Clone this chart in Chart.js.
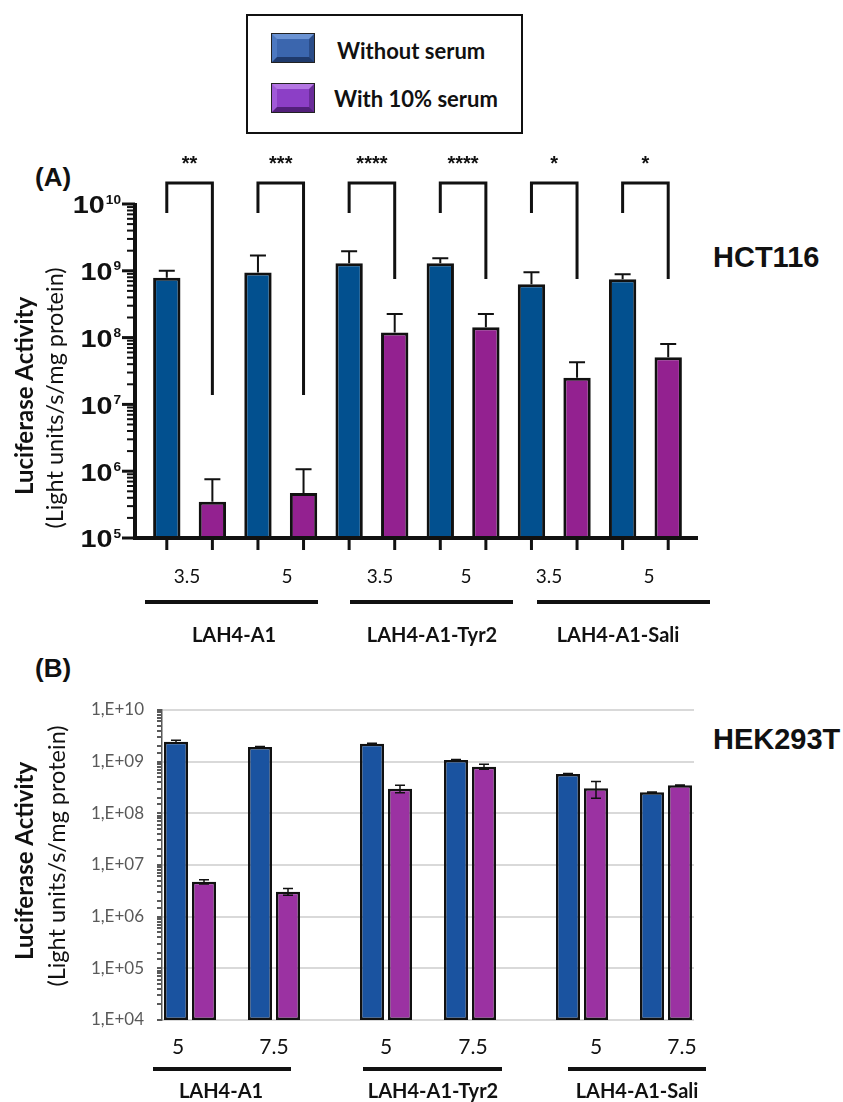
<!DOCTYPE html>
<html>
<head>
<meta charset="utf-8">
<script src="https://cdn.jsdelivr.net/npm/chart.js@4.4.1/dist/chart.umd.min.js"></script>
<style>
  body { margin: 0; background: #fff; }
  #page { position: relative; width: 843px; height: 1102px; overflow: hidden; color: #111; font-family: Lato, sans-serif; }
  .abs { position: absolute; white-space: nowrap; line-height: 1; }
  .tag { font: bold 26px "Liberation Sans", Arial, sans-serif; }
  .cell { font: bold 29px "Liberation Sans", Arial, sans-serif; }
  .legtext { font: bold 22px Lato, sans-serif; }
  .swatch { width: 32px; height: 18px; border: 5px solid; box-shadow: 0 0 0 1px #222; }
  .sw-blue { background: #3b66ae; border-color: #6b93d3 #2a4c88 #1f3a6c #4c78c0; }
  .sw-purple { background: #8c3fc6; border-color: #b476e3 #6a2c99 #52207a #a05ad8; }
</style>
</head>
<body>
<div id="page">
  <div class="abs" style="left:246px;top:14px;width:277px;height:120px;box-sizing:border-box;border:2.5px solid #111;"></div>
  <div class="abs swatch sw-blue" style="left:272px;top:34px;"></div>
  <div class="abs swatch sw-purple" style="left:272px;top:84px;"></div>
  <div class="abs legtext" style="left:337px;top:37px;">Without serum</div>
  <div class="abs legtext" style="left:334px;top:85px;">With 10% serum</div>

  <div class="abs tag" style="left:35px;top:162px;">(A)</div>
  <div class="abs cell" style="left:713px;top:241px;">HCT116</div>
  <div class="abs tag" style="left:35px;top:653px;">(B)</div>
  <div class="abs cell" style="left:713px;top:723px;">HEK293T</div>

  <div class="abs" style="left:0;top:140px;width:843px;height:520px;"><canvas id="chartA"></canvas></div>
  <div class="abs" style="left:0;top:660px;width:843px;height:442px;"><canvas id="chartB"></canvas></div>
</div>

<script>
// ---- data: panel A (HCT116), doses 3.5 / 5 per compound ----
const compounds = ['LAH4-A1', 'LAH4-A1-Tyr2', 'LAH4-A1-Sali'];
const dosesA = ['3.5', '5', '3.5', '5', '3.5', '5'];
const noSerumA = [7.9e8, 9.4e8, 1.3e9, 1.3e9, 6.3e8, 7.45e8];
const noSerumErrA = [2.1e8, 7.6e8, 6.6e8, 2.4e8, 3.2e8, 1.4e8];
const serumA = [3.5e5, 4.7e5, 1.19e8, 1.43e8, 2.5e7, 5.06e7];
const serumErrA = [4.1e5, 6.0e5, 1.06e8, 8.2e7, 1.77e7, 2.94e7];
const starsA = ['**', '***', '****', '****', '*', '*'];

// ---- data: panel B (HEK293T), doses 5 / 7.5 per compound ----
const dosesB = ['5', '7.5', '5', '7.5', '5', '7.5'];
const noSerumB = [2.44e9, 1.92e9, 2.23e9, 1.08e9, 5.77e8, 2.55e8];
const noSerumErrB = [1.5e8, 4e7, 3e7, 2e7, 1e7, 4e6];
const serumB = [4.75e6, 3.05e6, 3.0e8, 8.0e8, 3.05e8, 3.48e8];
const serumErrB = [4.5e5, 4.5e5, 5e7, 9e7, 1.1e8, 6e6];
const yTicksB = [1e4, 1e5, 1e6, 1e7, 1e8, 1e9, 1e10];

// ---- annotation layout (canvas pixels) ----
const layoutA = {
  doseX: [187, 287, 380, 466, 549, 649], doseY: 437, doseFont: '19px Lato',
  groupLines: [[145, 318], [350, 513], [537, 710]], groupLineY: 462,
  groupX: [234, 432, 618], groupY: 496,
  bracketDrop: [212, 212, 96, 96, 96, 96]
};
const layoutB = {
  doseX: [178, 274, 386, 473, 596, 682], doseY: 387, doseFont: '21px Lato',
  groupLines: [[153, 291], [363, 502], [568, 706]], groupLineY: 409,
  groupX: [221, 433, 637], groupY: 432
};

// slot table for panel B: two bars per dose, a gap between doses, a wider gap between compounds
const slotsNoSerum = [], slotsSerum = [], slotsNoSerumErr = [], slotsSerumErr = [];
(function buildSlots() {
  let pos = 0;
  for (let g = 0; g < compounds.length; g++) {
    for (let k = 0; k < 2; k++) {
      const i = g * 2 + k;
      slotsNoSerum[pos] = noSerumB[i]; slotsNoSerumErr[pos] = noSerumErrB[i];
      slotsSerum[pos + 1] = serumB[i]; slotsSerumErr[pos + 1] = serumErrB[i];
      pos += 3;
    }
    pos += 1;
  }
  const n = pos - 2;
  for (let s = 0; s < n; s++) {
    if (slotsNoSerum[s] === undefined) { slotsNoSerum[s] = null; slotsNoSerumErr[s] = null; }
    if (slotsSerum[s] === undefined) { slotsSerum[s] = null; slotsSerumErr[s] = null; }
  }
})();
const slotLabels = slotsNoSerum.map((v, i) => String(i));

function stretchedText(ctx, text, xRight, yMid, font, sx) {
  ctx.font = font;
  const w = ctx.measureText(text).width * sx;
  ctx.save();
  ctx.translate(xRight - w, yMid);
  ctx.scale(sx, 1);
  ctx.textAlign = 'left';
  ctx.textBaseline = 'middle';
  ctx.fillText(text, 0, 0);
  ctx.restore();
  return w;
}

function drawGroups(ctx, layout, doses) {
  ctx.fillStyle = '#111';
  ctx.strokeStyle = '#111';
  ctx.textAlign = 'center';
  ctx.textBaseline = 'middle';
  ctx.font = layout.doseFont;
  doses.forEach((d, i) => ctx.fillText(d, layout.doseX[i], layout.doseY));
  ctx.lineWidth = 4;
  layout.groupLines.forEach(([a, b]) => {
    ctx.beginPath(); ctx.moveTo(a, layout.groupLineY); ctx.lineTo(b, layout.groupLineY); ctx.stroke();
  });
  ctx.font = 'bold 20px Lato';
  compounds.forEach((c, i) => ctx.fillText(c, layout.groupX[i], layout.groupY));
}

function drawYTitle(ctx, cx1, cx2, cy1, cy2) {
  ctx.save();
  ctx.fillStyle = '#111';
  ctx.textAlign = 'center';
  ctx.textBaseline = 'middle';
  ctx.translate(cx1, cy1); ctx.rotate(-Math.PI / 2);
  ctx.font = 'bold 24px Lato';
  ctx.fillText('Luciferase Activity', 0, 0);
  ctx.restore();
  ctx.save();
  ctx.fillStyle = '#111';
  ctx.textAlign = 'center';
  ctx.textBaseline = 'middle';
  ctx.translate(cx2, cy2); ctx.rotate(-Math.PI / 2);
  ctx.font = '23.5px Lato';
  ctx.fillText('(Light units/s/mg protein)', 0, 0);
  ctx.restore();
}

const panelAPlugin = {
  id: 'panelA',
  afterDatasetsDraw(chart) {
    const { ctx, chartArea: area, scales: { y } } = chart;
    const axisX = area.left - 9;
    ctx.save();
    ctx.strokeStyle = '#111';
    ctx.fillStyle = '#111';
    ctx.lineCap = 'butt';

    // error bars (upper only)
    chart.data.datasets.forEach((ds, di) => {
      chart.getDatasetMeta(di).data.forEach((bar, i) => {
        const top = y.getPixelForValue(ds.data[i] + ds.errors[i]);
        ctx.lineWidth = 2;
        ctx.beginPath();
        ctx.moveTo(bar.x, bar.y); ctx.lineTo(bar.x, top);
        ctx.moveTo(bar.x - 8, top); ctx.lineTo(bar.x + 8, top);
        ctx.stroke();
      });
    });

    // axes with decade and minor ticks
    ctx.lineWidth = 4;
    ctx.beginPath();
    ctx.moveTo(axisX, area.top - 1); ctx.lineTo(axisX, area.bottom + 2);
    ctx.moveTo(axisX - 2, area.bottom); ctx.lineTo(area.right + 7, area.bottom);
    ctx.stroke();
    for (let e = 5; e <= 10; e++) {
      const py = y.getPixelForValue(Math.pow(10, e));
      ctx.lineWidth = 3;
      ctx.beginPath(); ctx.moveTo(axisX - 13, py); ctx.lineTo(axisX, py); ctx.stroke();
      if (e < 10) {
        ctx.lineWidth = 2;
        for (let m = 2; m <= 9; m++) {
          const my = y.getPixelForValue(m * Math.pow(10, e));
          ctx.beginPath(); ctx.moveTo(axisX - 8, my); ctx.lineTo(axisX, my); ctx.stroke();
        }
      }
      const wE = stretchedText(ctx, String(e), axisX - 14, py - 4, 'bold 13px "Liberation Sans"', 1.05);
      stretchedText(ctx, '10', axisX - 15 - wE, py + 3, 'bold 23px "Liberation Sans"', 1.25);
    }

    // x ticks under every bar
    ctx.lineWidth = 3;
    chart.data.datasets.forEach((ds, di) => {
      chart.getDatasetMeta(di).data.forEach(bar => {
        ctx.beginPath(); ctx.moveTo(bar.x, area.bottom); ctx.lineTo(bar.x, area.bottom + 12); ctx.stroke();
      });
    });

    // significance brackets
    const blue = chart.getDatasetMeta(0).data, purple = chart.getDatasetMeta(1).data;
    const bTop = area.top - 21;
    ctx.lineWidth = 3;
    ctx.font = 'bold 20px "Liberation Sans"';
    ctx.textAlign = 'center';
    ctx.textBaseline = 'alphabetic';
    blue.forEach((b, i) => {
      const xl = b.x, xr = purple[i].x;
      ctx.beginPath();
      ctx.moveTo(xl, bTop + 30); ctx.lineTo(xl, bTop); ctx.lineTo(xr, bTop); ctx.lineTo(xr, bTop + layoutA.bracketDrop[i]);
      ctx.stroke();
      ctx.fillText(starsA[i], (xl + xr) / 2, area.top - 34);
    });

    drawGroups(ctx, layoutA, dosesA);
    drawYTitle(ctx, 25, 55, 256, 258);
    ctx.restore();
  }
};

const panelBPlugin = {
  id: 'panelB',
  afterDatasetsDraw(chart) {
    const { ctx, scales: { y } } = chart;
    ctx.save();
    ctx.strokeStyle = '#111';
    ctx.lineWidth = 1.5;
    chart.data.datasets.forEach((ds, di) => {
      chart.getDatasetMeta(di).data.forEach((bar, i) => {
        if (ds.data[i] == null) return;
        const hi = y.getPixelForValue(ds.data[i] + ds.errors[i]);
        const lo = y.getPixelForValue(ds.data[i] - ds.errors[i]);
        ctx.beginPath();
        ctx.moveTo(bar.x, hi); ctx.lineTo(bar.x, lo);
        ctx.moveTo(bar.x - 5, hi); ctx.lineTo(bar.x + 5, hi);
        ctx.moveTo(bar.x - 5, lo); ctx.lineTo(bar.x + 5, lo);
        ctx.stroke();
      });
    });
    drawGroups(ctx, layoutB, dosesB);
    drawYTitle(ctx, 25, 57, 201, 196);
    ctx.restore();
  }
};

const isDecade = v => Math.abs(Math.log10(v) - Math.round(Math.log10(v))) < 1e-6;

// Panel A chart
new Chart(document.getElementById('chartA').getContext('2d'), {
  type: 'bar',
  data: {
    labels: dosesA,
    datasets: [
      { label: 'Without serum', data: noSerumA, errors: noSerumErrA, backgroundColor: '#02508f' },
      { label: 'With 10% serum', data: serumA, errors: serumErrA, backgroundColor: '#932190' }
    ]
  },
  options: {
    responsive: true,
    maintainAspectRatio: false,
    animation: false,
    layout: { padding: { left: 0, right: 152, top: 64, bottom: 0 } },
    datasets: { bar: { borderColor: '#111', borderWidth: 3, categoryPercentage: 1.0, barPercentage: 0.6 } },
    plugins: { legend: { display: false }, tooltip: { enabled: false } },
    scales: {
      x: {
        grid: { display: false }, border: { display: false }, ticks: { display: false },
        afterFit: s => { s.height = 122; }
      },
      y: {
        type: 'logarithmic', min: 1e5, max: 1e10,
        grid: { display: false }, border: { display: false }, ticks: { display: false },
        afterFit: s => { s.width = 144; }
      }
    }
  },
  plugins: [panelAPlugin]
});

// Panel B chart
new Chart(document.getElementById('chartB').getContext('2d'), {
  type: 'bar',
  data: {
    labels: slotLabels,
    datasets: [
      { label: 'Without serum', data: slotsNoSerum, errors: slotsNoSerumErr, backgroundColor: '#1a53a0' },
      { label: 'With 10% serum', data: slotsSerum, errors: slotsSerumErr, backgroundColor: '#9b32a2' }
    ]
  },
  options: {
    responsive: true,
    maintainAspectRatio: false,
    animation: false,
    layout: { padding: { left: 0, right: 149, top: 50, bottom: 0 } },
    datasets: { bar: { borderColor: '#111', borderWidth: 2.5, borderSkipped: false, skipNull: true, categoryPercentage: 1.0, barPercentage: 0.857 } },
    plugins: { legend: { display: false }, tooltip: { enabled: false } },
    scales: {
      x: {
        grid: { display: false }, border: { display: false }, ticks: { display: false },
        afterFit: s => { s.height = 82; }
      },
      y: {
        type: 'logarithmic', min: yTicksB[0], max: yTicksB[yTicksB.length - 1],
        border: { display: true, color: '#595959', width: 1.5 },
        grid: {
          color: c => (c.tick && isDecade(c.tick.value)) ? '#d9d9d9' : 'rgba(0,0,0,0)',
          lineWidth: 2, tickColor: '#595959', tickLength: 5, drawTicks: true
        },
        ticks: {
          autoSkip: false, padding: 13, color: '#595959', font: { family: 'Lato', size: 17 },
          callback: v => isDecade(v) ? '1,E+' + String(Math.round(Math.log10(v))).padStart(2, '0') : ''
        },
        afterFit: s => { s.width = 162; }
      }
    }
  },
  plugins: [panelBPlugin]
});
</script>
</body>
</html>
